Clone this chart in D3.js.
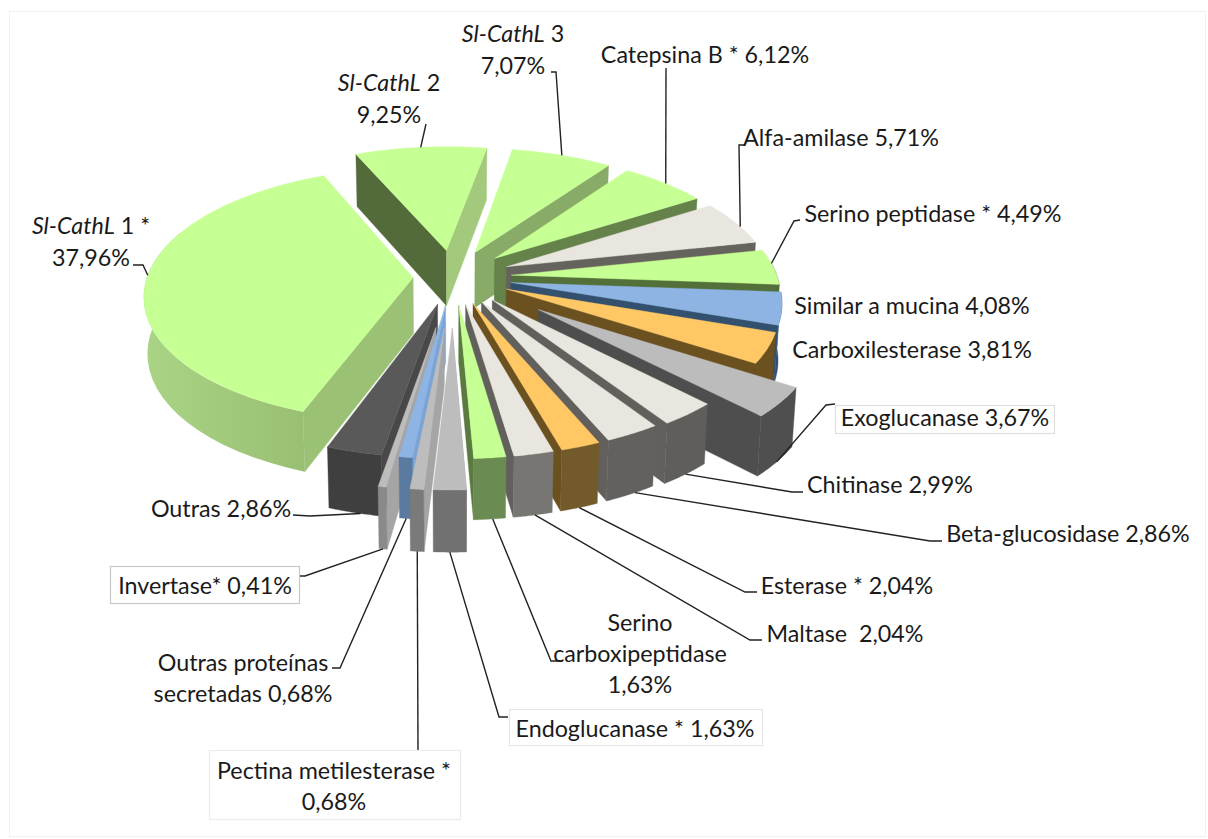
<!DOCTYPE html>
<html><head><meta charset="utf-8">
<script src="https://cdnjs.cloudflare.com/ajax/libs/d3/7.8.5/d3.min.js"></script>
<style>html,body{margin:0;padding:0;background:#fff}svg{display:block}text{font-family:Lato,"Open Sans",sans-serif;fill:#1a1a1a}</style>
</head><body><svg id="c" width="1208" height="839"></svg>
<script>
const categories=["Sl-CathL 3","Catepsina B","Alfa-amilase","Serino peptidase","Similar a mucina","Carboxilesterase","Exoglucanase","Chitinase","Beta-glucosidase","Esterase","Maltase","Serino carboxipeptidase","Endoglucanase","Pectina metilesterase","Outras proteínas secretadas","Invertase","Outras","Sl-CathL 1","Sl-CathL 2"];
const values=[7.07,6.12,5.71,4.49,4.08,3.81,3.67,2.99,2.86,2.04,2.04,1.63,1.63,0.68,0.68,0.41,2.86,37.96,9.25];
const explode=[.22,.22,.22,.22,.22,.22,.40,.23,.22,.22,.22,.22,.39,.39,.22,.39,.22,.15,.22];
const topColors=["#c6ff93","#c6ff93","#e8e6de","#c6ff93","#8db4e3","#ffc864","#bcbcbc","#e8e6de","#e8e6de","#ffc864","#e8e6de","#c6ff93","#bdbdbd","#bdbdbd","#8db4e3","#bdbdbd","#595959","#c6ff93","#c6ff93"];
const endWallColors=["#88ab68","#64824a","#66635e","#53703b","#33506f","#6b5020","#4e4e4e","#62605c","#62605c","#6b5020","#62605c","#5a7a40","#8f8f8f","#a5a5a5","#7aa4d6","#a5a5a5","#484848","#9bc274","#a3c97c"];
const startWallColors=["#88ab68","#64824a","#66635e","#53703b","#33506f","#6b5020","#4e4e4e","#62605c","#62605c","#6b5020","#62605c","#5a7a40","#a5a5a5","#a5a5a5","#7aa4d6","#a5a5a5","#484848","#9bc274","#536a3a"];
const rimColors=["#88ab68","#64824a","#66635e","#53703b","#33506f","#6b5020","#4f4f4f","#5f5e5a","#62615d","#735a2a","#777672","#6a8b52","#717171","#7a7a7a","#5b7a9f","#8a8a8a","#3f3f3f","url(#rimGrad)","#a3c97c"];
const labelLines=[["<i>Sl-CathL</i> 3","%v"],["Catepsina B * %v"],["Alfa-amilase %v"],["Serino peptidase * %v"],["Similar a mucina %v"],["Carboxilesterase %v"],["Exoglucanase %v"],["Chitinase %v"],["Beta-glucosidase %v"],["Esterase * %v"],["Maltase  %v"],["Serino","carboxipeptidase","%v"],["Endoglucanase * %v"],["Pectina metilesterase *","%v"],["Outras proteínas","secretadas %v"],["Invertase* %v"],["Outras %v"],["<i>Sl-CathL</i> 1 *","%v"],["<i>Sl-CathL</i> 2","%v"]];
const labelPos=[[513,33],[705,54],[841,137],[933,213],[912,305],[912,349],[945,417],[890,484],[1068,533],[847,585],[845,633],[640,622],[635,728],[334,770],[243,662],[205,585],[221,508],[91,225],[389,82]];
const labelBox=[null,null,null,null,null,null,[835,405,219,28,"#dedede"],null,null,null,null,null,[509,709,253,36,"#e6e6e6"],[209,750,251,69,"#ececec"],null,[110,566,189,37,"#c8c8c8"],null,null,null];
const leaderPath=[[[551,72],[556,72]],[[666,68]],[[745,145],[739,145]],[[800,220],[794,221]],null,null,[[835,404],[826,405]],[[803,492],[792,492]],[[942,541],[930,541]],[[757,592],[745,592]],[[762,640],[750,640]],[[563,661],[551,661]],[[508,717],[499,717]],[[418,750]],[[332,668],[340,668]],[[299,576],[305,576]],[[293,515],[310,516]],[[133,265],[143,265]],[[426,124]]];
const leaderSide=["t","t","t","t",null,null,"b","b","b","b","b","b","b","b","b","b","b","t","t"];
const leaderAt=[.5,.52,.6,.4,null,null,.5,.5,.4,.5,.45,.4,.5,.5,.5,.5,.4,.52,.5];

const W=1208,H=839,cx=453,cy=277,R=266,K=124.5,P=.135,depth=56,shrink=.988,a0=10*Math.PI/180;
const svg=d3.select("#c");
const defs=svg.append("defs");
const g=defs.append("linearGradient").attr("id","rimGrad");
g.append("stop").attr("offset","0").attr("stop-color","#aad485");
g.append("stop").attr("offset","1").attr("stop-color","#99bf73");
svg.append("rect").attr("x",9.5).attr("y",11.5).attr("width",W-12).attr("height",H-14).attr("fill","#fff").attr("stroke","#f1f1f1");

const sx=d3.scaleLinear().domain([0,1]).range([0,R]);
const sy=d3.scaleLinear().domain([0,1]).range([0,K]);
function proj(wx,wy,bottom){
  const s=1/(1-P*wy);
  let x=sx(wx)*s, y=cy+sy(wy)*s;
  if(bottom){x*=shrink;y+=depth*Math.sqrt(s);}
  return [cx+x,y];
}
const pie=d3.pie().sort(null).value(d=>d).startAngle(a0).endAngle(a0+2*Math.PI);
const arcs=pie(values).map((a,i)=>{
  const mid=(a.startAngle+a.endAngle)/2;
  return {i,a0:a.startAngle,a1:a.endAngle,mid,ox:explode[i]*Math.sin(mid),oy:-explode[i]*Math.cos(mid)};
});
const pt=(d,t,r,b)=>proj(d.ox+r*Math.sin(t),d.oy-r*Math.cos(t),b);
const line=d3.line();
const arcPts=(d,t0,t1,b)=>d3.range(0,25).map(k=>pt(d,t0+(t1-t0)*k/24,1,b));
const order=arcs.slice().sort((p,q)=>Math.abs(q.mid-Math.PI)-Math.abs(p.mid-Math.PI));
const layer=svg.append("g");
const leaders=svg.append("g");
const face=(gg,pts,col)=>gg.append("path").attr("d",line(pts)+"Z").attr("fill",col).attr("stroke",col.startsWith("url")?"none":col).attr("stroke-width",.4);
order.forEach(d=>{
  const gg=layer.append("g");
  const nStart=-Math.cos(d.a0-Math.PI/2), nEnd=-Math.cos(d.a1+Math.PI/2);
  const wall=t=>[pt(d,t,0,false),pt(d,t,1,false),pt(d,t,1,true),pt(d,t,0,true)];
  if(nStart>-.05)face(gg,wall(d.a0),startWallColors[d.i]);
  if(nEnd>-.05)face(gg,wall(d.a1),endWallColors[d.i]);
  const lo=Math.max(d.a0,85*Math.PI/180), hi=Math.min(d.a1,292*Math.PI/180);
  if(hi>lo){
    const up=arcPts(d,lo,hi,false), dn=arcPts(d,lo,hi,true).reverse();
    face(gg,up.concat(dn),rimColors[d.i]);
  }
  const top=[pt(d,0,0,false)].concat(arcPts(d,d.a0,d.a1,false));
  face(gg,top,topColors[d.i]);
});
arcs.forEach(d=>{
  const i=d.i;
  if(leaderPath[i]){
    const t=d.a0+(d.a1-d.a0)*leaderAt[i];
    const end=pt(d,t,1,leaderSide[i]==="b");
    leaders.append("path").attr("d",line(leaderPath[i].concat([end]))).attr("fill","none").attr("stroke","#222").attr("stroke-width",1.4);
  }
  if(labelBox[i]){const b=labelBox[i];
    svg.append("rect").attr("x",b[0]+.5).attr("y",b[1]+.5).attr("width",b[2]).attr("height",b[3]).attr("fill","#fff").attr("stroke",b[4]).attr("stroke-width",1.2);}
  const v=values[i].toFixed(2).replace(".",",")+"%";
  labelLines[i].forEach((ln,k)=>{
    const tx=svg.append("text").attr("x",labelPos[i][0]).attr("y",labelPos[i][1]+k*(i===11||i===13||i===14?31:32)).attr("text-anchor","middle").attr("dominant-baseline","central").attr("font-size",23.3).style("white-space","pre");
    const s=ln.replace("%v",v);
    const m=s.match(/^<i>(.*)<\/i>(.*)$/);
    if(m){tx.append("tspan").attr("font-style","italic").text(m[1]);tx.append("tspan").text(m[2]);}
    else tx.text(s);
  });
});
</script></body></html>
